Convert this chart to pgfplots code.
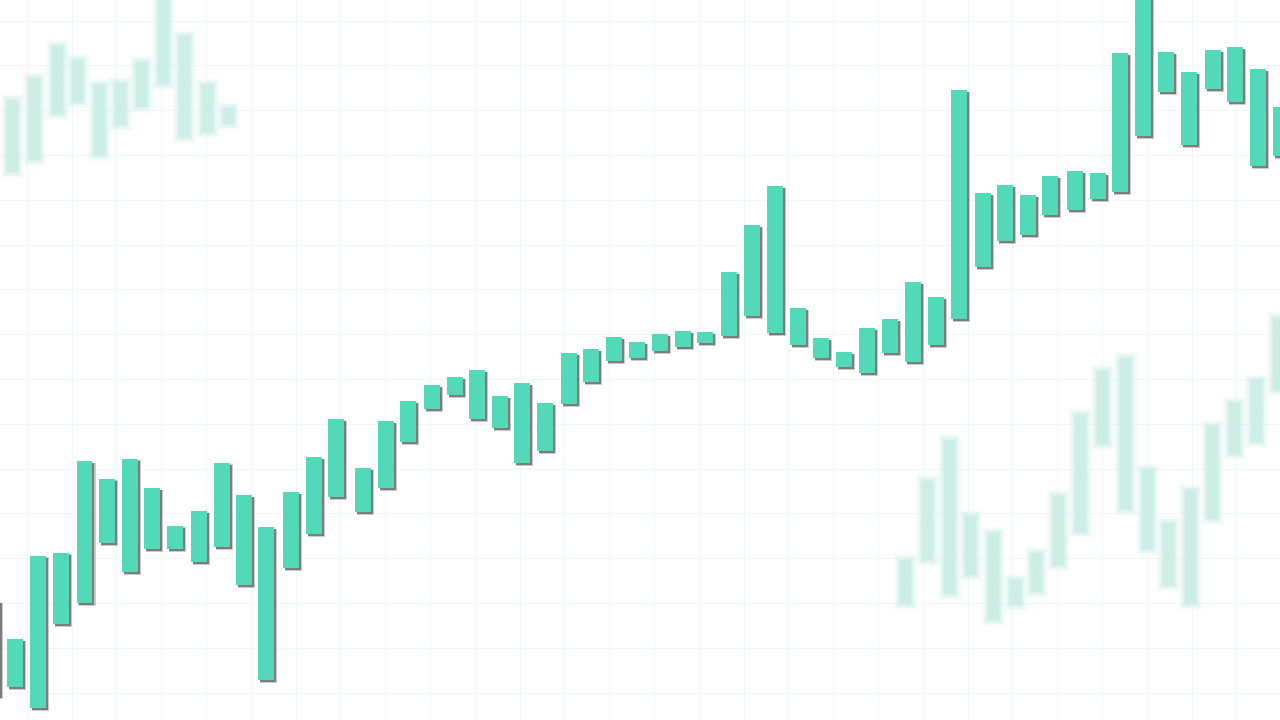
\documentclass[border=0pt]{standalone}
\usepackage{pgfplots}
\usepackage{pgfplotstable}
\pgfplotsset{compat=1.18}
\definecolor{candle}{RGB}{82,217,184}
\definecolor{shade}{RGB}{105,105,105}
\definecolor{faint}{RGB}{205,238,229}
\definecolor{gridc}{RGB}{242,246,245}
% x = candle centre, t = top of body, b = bottom of body (picture units, y downwards)
\pgfplotstableread{
x t b
-8 601 696
15 639 687
38 556 708
61 553 624
84.5 461 603
107 479 543
130 459 572
152 488 549
175 526 549
199 511 562
222 463 547
244 495 585
266 527 680
291 492 568
314 457 534
336 419 497
363 468 512
386 421 488
408 401 442
432 385 409
455 377 395
477 370 419
500 396 428
522 383 463
545 403 451
569 353 404
591 349 382
614 337 361
637 342 358
660 334 351
683 331 347
705 332 343
729 272 336
752 225 316
775 186 333
798 308 345
821 338 358
844 352 367
867 328 373
890 319 353
913 282 362
936 297 345
959 90 319
983 193 267
1005 185 241
1028 195 235
1050 176 215
1075 171 210
1098 173 199
1120 53 192
1143 -10 136
1166 52 92
1189 72 145
1213 50 89
1235 47 102
1258 69 166
1281 107 156
}\maindata
\pgfplotstableread{
x t b
12 97 175
34 75 163
57 43 117
77 57 105
99 82 158
120 80 128
141 59 110
163 -5 87
184 33 140
207 82 135
228 105 127
905 557 607
927 478 563
949 437 597
970 513 578
993 530 623
1015 577 608
1036 550 595
1058 493 568
1080 412 535
1102 368 447
1125 355 512
1147 467 552
1168 520 588
1190 487 607
1212 423 522
1234 400 457
1256 377 445
1278 315 393
}\faintdata
\pgfplotsset{
  candlebars/.style n args={3}{only marks, mark=*, mark size=0pt,
    mark options={draw=none,fill=none},
    error bars/.cd, y dir=both, y explicit, error mark=none,
    error bar style={draw=#1, opacity=#2, line width=#3}},
}
\begin{document}
\begin{tikzpicture}
\begin{axis}[
  name=ax,
  width=12.8cm, height=7.2cm, scale only axis,
  xmin=0, xmax=1280, ymin=0, ymax=720, y dir=reverse,
  axis line style={draw=none}, tick style={draw=none},
  xticklabels={}, yticklabels={},
  xtick={27.2,72,...,1280}, ytick={21,65.8,...,720},
  grid=major, major grid style={color=gridc, line width=0.1mm},
  clip=true,
]
% faint blurred background candles
\addplot[candlebars={faint}{0.18}{2.3mm}]
  table[x=x, y expr={(\thisrow{t}+\thisrow{b})/2}, y error expr={(\thisrow{b}-\thisrow{t})/2+3}] \faintdata;
\addplot[candlebars={faint}{0.3}{1.9mm}]
  table[x=x, y expr={(\thisrow{t}+\thisrow{b})/2}, y error expr={(\thisrow{b}-\thisrow{t})/2+1}] \faintdata;
\addplot[candlebars={faint}{0.5}{1.5mm}]
  table[x=x, y expr={(\thisrow{t}+\thisrow{b})/2}, y error expr={(\thisrow{b}-\thisrow{t})/2-1}] \faintdata;
\addplot[candlebars={faint}{1}{1.1mm}]
  table[x=x, y expr={(\thisrow{t}+\thisrow{b})/2}, y error expr={(\thisrow{b}-\thisrow{t})/2-3}] \faintdata;
% shadows
\addplot[candlebars={shade}{0.35}{1.75mm}]
  table[x expr={\thisrow{x}+2.3}, y expr={(\thisrow{t}+\thisrow{b})/2+2.3}, y error expr={(\thisrow{b}-\thisrow{t})/2+0.8}] \maindata;
\addplot[candlebars={shade}{0.8}{1.55mm}]
  table[x expr={\thisrow{x}+2.2}, y expr={(\thisrow{t}+\thisrow{b})/2+2.2}, y error expr={(\thisrow{b}-\thisrow{t})/2}] \maindata;
% candles
\addplot[candlebars={candle}{1}{1.55mm}]
  table[x=x, y expr={(\thisrow{t}+\thisrow{b})/2}, y error expr={(\thisrow{b}-\thisrow{t})/2}] \maindata;
\end{axis}
\pgfresetboundingbox
\useasboundingbox (ax.south west) rectangle (ax.north east);
\end{tikzpicture}
\end{document}
